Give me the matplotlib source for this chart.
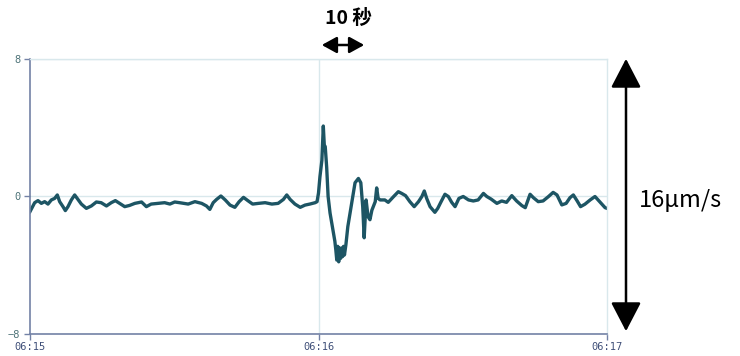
import matplotlib
matplotlib.use("Agg")
import matplotlib.pyplot as plt
from matplotlib.patches import FancyArrowPatch

# ---- data (seconds after 06:15:00, velocity in um/s) ----
t_sec = [0.0, 0.97, 1.66, 2.36, 3.05, 3.74, 4.44, 5.13, 5.68, 6.17, 6.86, 7.35, 7.9,
         8.6, 9.29, 9.98, 10.68, 11.72, 12.76, 13.8, 14.8, 15.9, 16.9, 17.75, 18.65,
         19.7, 20.7, 21.8, 23.2, 24.2, 25.2, 26.6, 28.0, 29.1, 30.1, 31.1, 32.9, 34.3,
         35.7, 36.7, 37.4, 38.1, 38.8, 39.7, 40.6, 41.6, 42.6, 43.5, 44.4, 45.3, 46.3,
         47.5, 48.9, 50.3, 51.6, 52.7, 53.4, 54.1, 55.1, 56.2, 57.2, 58.2, 59.3, 59.7,
         60.0, 60.3, 60.7, 61.0, 61.2, 61.4, 61.7, 62.0, 62.4, 63.0, 63.4, 63.6, 63.8,
         64.0, 64.2, 64.4, 64.6, 64.8, 65.0, 65.2, 65.4, 65.7, 66.1, 66.9, 67.6, 68.3,
         68.8, 69.2, 69.5, 69.9, 70.3, 70.7, 71.1, 71.8, 72.1, 72.4, 72.8, 73.8, 74.5,
         75.6, 76.6, 77.3, 78.1, 79.0, 79.9, 80.8, 81.5, 82.0, 82.5, 83.2, 84.2, 84.8,
         85.5, 86.3, 87.0, 87.7, 88.4, 89.2, 90.1, 91.2, 92.2, 93.2, 94.3, 95.0, 95.9,
         97.1, 98.1, 99.1, 100.2, 101.2, 102.3, 103.0, 104.0, 104.7, 105.7, 106.7,
         107.8, 108.8, 109.6, 110.6, 111.5, 112.3, 113.0, 113.8, 114.5, 115.4, 116.5,
         117.5, 118.6, 119.6, 120.0]
velocity = [-0.88, -0.36, -0.24, -0.40, -0.30, -0.44, -0.20, -0.11, 0.09, -0.30, -0.59,
            -0.82, -0.59, -0.20, 0.09, -0.17, -0.44, -0.69, -0.55, -0.32, -0.36, -0.55,
            -0.36, -0.24, -0.40, -0.59, -0.52, -0.40, -0.32, -0.59, -0.44, -0.40, -0.36,
            -0.44, -0.32, -0.36, -0.44, -0.30, -0.40, -0.55, -0.75, -0.36, -0.17, 0.03,
            -0.20, -0.50, -0.63, -0.30, -0.05, -0.24, -0.44, -0.40, -0.36, -0.44, -0.40,
            -0.17, 0.09, -0.17, -0.44, -0.63, -0.50, -0.44, -0.36, -0.30,
            0.2, 1.15, 2.1, 4.1, 3.0, 2.9, 1.7, 0.0, -0.96, -1.95, -2.6, -3.1, -3.7,
            -2.9, -3.8, -3.0, -3.6, -3.0, -3.5, -2.9, -3.4, -2.8, -1.75, -0.4, 0.8, 1.05,
            0.8, -0.6, -2.4, -0.2, -1.17, -1.35, -0.8, -0.3, 0.5, -0.1, -0.2, -0.20,
            -0.34, -0.01, 0.28, 0.18, 0.05, -0.30, -0.59, -0.30, 0.0, 0.32, -0.11, -0.59,
            -0.92, -0.69, -0.30, 0.13, 0.0, -0.34, -0.59, -0.11, 0.0, -0.20, -0.26,
            -0.20, 0.18, 0.0, -0.15, -0.40, -0.26, -0.34, 0.05, -0.26, -0.53, -0.65,
            0.13, -0.07, -0.30, -0.26, -0.01, 0.24, 0.09, -0.49, -0.40, -0.07, 0.09,
            -0.26, -0.59, -0.45, -0.20, 0.0, -0.34, -0.65, -0.69]
x_ticks = [0, 60, 120]
x_labels = ["06:15", "06:16", "06:17"]
y_ticks = [-8, 0, 8]

W, H = 740, 356
fig = plt.figure(figsize=(W / 100, H / 100), dpi=100)
ax = fig.add_axes([30 / W, 1 - 334 / H, 577 / W, 275 / H])

ax.plot(t_sec, velocity, color="#1d5564", lw=2.4)
ax.set_xlim(0, 120)
ax.set_ylim(-8, 8)

grid_c = "#d9e8ec"
for y in y_ticks:
    ax.axhline(y, color=grid_c, lw=1, zorder=0)
ax.axvline(60, color=grid_c, lw=1, zorder=0)

ax.set_xticks(x_ticks)
ax.set_xticklabels(x_labels)
ax.set_yticks(y_ticks)
axis_c = "#7382a6"
ax.tick_params(axis="both", length=4, width=1, color=axis_c, labelsize=7.5)
for lbl in ax.get_xticklabels():
    lbl.set_family("DejaVu Sans Mono")
    lbl.set_color("#3f4f78")
for lbl in ax.get_yticklabels():
    lbl.set_family("DejaVu Sans Mono")
    lbl.set_color("#4d7378")
ax.tick_params(axis="x", pad=2)
ax.tick_params(axis="y", pad=3)

for s in ["left", "bottom"]:
    ax.spines[s].set_color(axis_c)
    ax.spines[s].set_linewidth(1.2)
for s in ["top", "right"]:
    ax.spines[s].set_color(grid_c)
    ax.spines[s].set_linewidth(1)


def fp(px, py):
    return (px / W, 1 - py / H)


fonts = ["Noto Sans CJK JP", "DejaVu Sans"]
# 10 second marker
fig.text(*fp(348, 18), "10 秒", ha="center", va="center", fontsize=14,
         fontweight="bold", family=fonts)
fig.add_artist(FancyArrowPatch(
    fp(319, 45), fp(367, 45), transform=fig.transFigure,
    arrowstyle="<|-|>,head_length=1.0,head_width=0.55", mutation_scale=9,
    lw=1.8, color="black"))
# 16 um/s marker
fig.add_artist(FancyArrowPatch(
    fp(626, 56), fp(626, 334), transform=fig.transFigure,
    arrowstyle="<|-|>,head_length=1.0,head_width=0.52", mutation_scale=18,
    lw=1.8, color="black"))
fig.text(*fp(680, 201), "16\u03bcm/s", ha="center", va="center", fontsize=17,
         family=fonts)

fig.savefig("out.png", dpi=100)
